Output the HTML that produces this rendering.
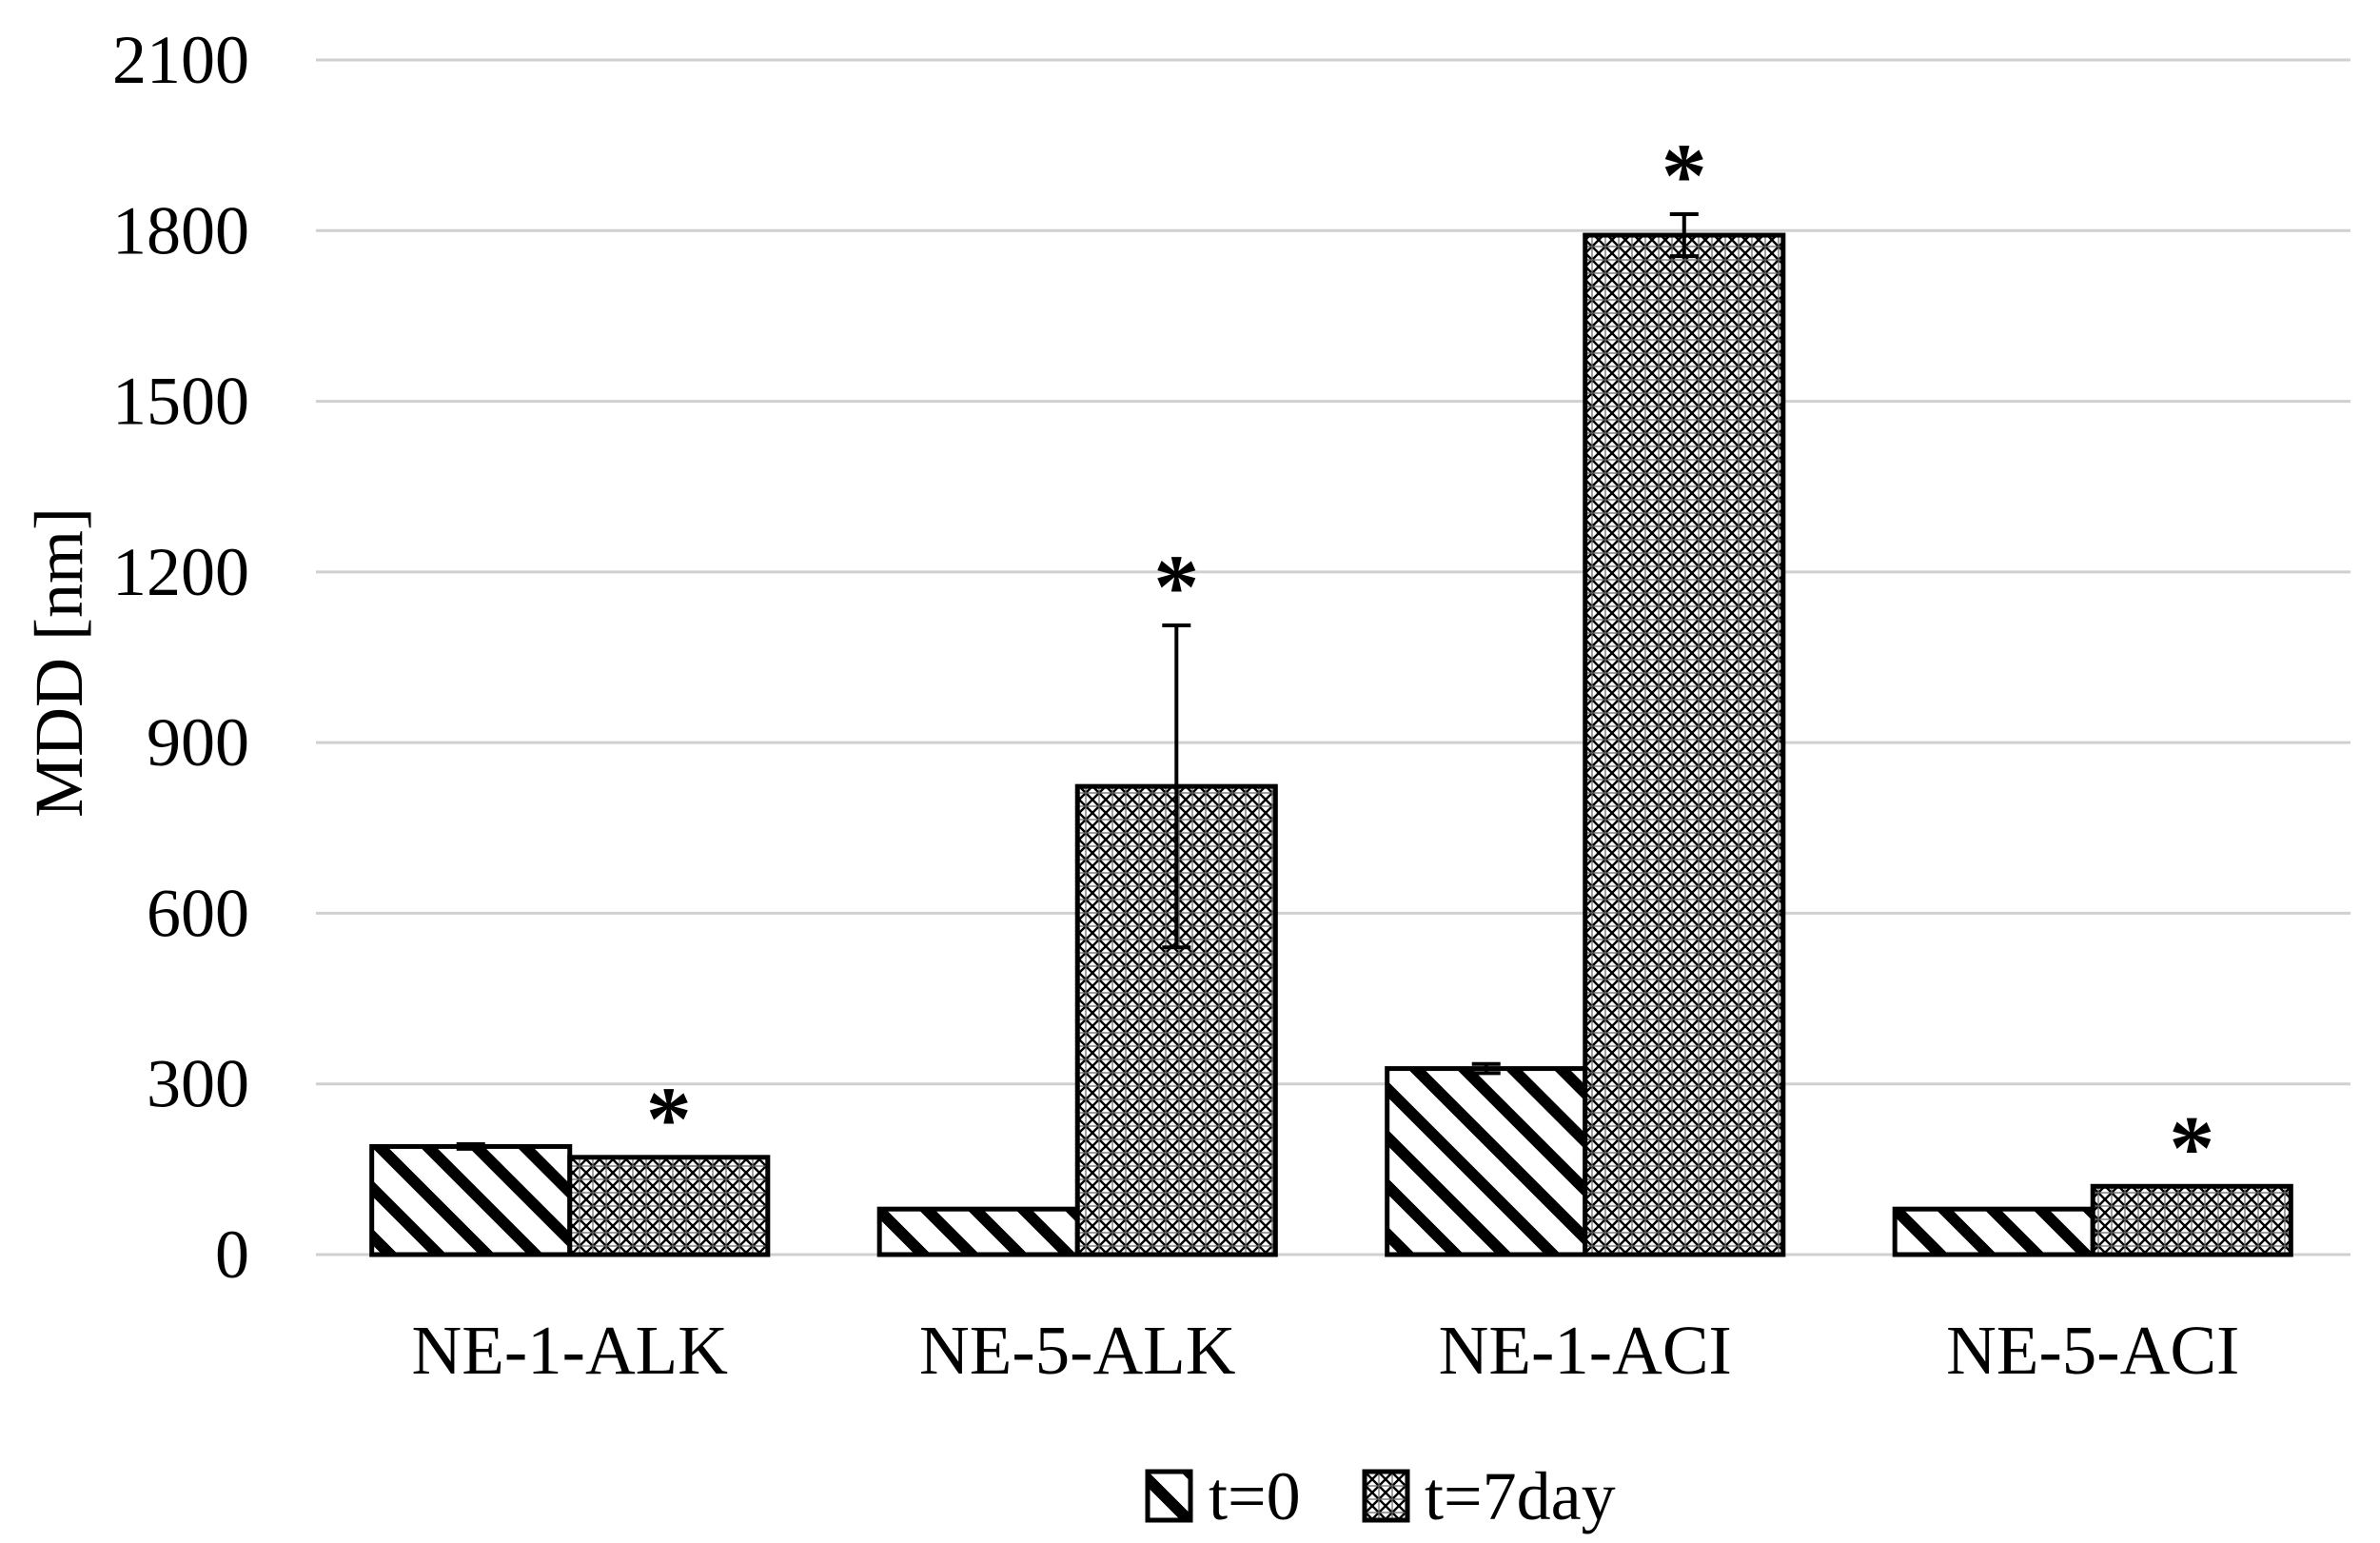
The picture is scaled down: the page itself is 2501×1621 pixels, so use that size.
<!DOCTYPE html>
<html><head><meta charset="utf-8"><style>
html,body{margin:0;padding:0;background:#fff}
svg{display:block}
text{font-family:"Liberation Serif",serif;fill:#000}
</style></head><body>
<svg id="chart" width="2501" height="1621" viewBox="0 0 2501 1621" xmlns="http://www.w3.org/2000/svg">
<defs>
<pattern id="stripes" patternUnits="userSpaceOnUse" width="36" height="36" patternTransform="rotate(-45)">
<rect width="36" height="36" fill="#fff"/><rect x="0" y="0" width="12" height="36" fill="#000"/>
</pattern>
<pattern id="hatch" patternUnits="userSpaceOnUse" width="14" height="14">
<rect width="14" height="14" fill="#fff"/>
<path d="M0 0L14 14M14 0L0 14" stroke="#000" stroke-width="2.4"/>
<path d="M7 0V14M0 7H14" stroke="#666" stroke-width="1.2"/>
</pattern>
</defs>
<g id="grid"></g><g id="bars"></g><g id="labels"></g>
<text transform="translate(86,696) rotate(-90)" text-anchor="middle" font-size="72">MDD [nm]</text>
<g>
<rect x="1206" y="1546" width="45" height="51" fill="url(#stripes)" stroke="#000" stroke-width="5"/>
<text x="1270" y="1596" font-size="72">t=0</text>
<rect x="1434" y="1546" width="45" height="51" fill="url(#hatch)" stroke="#000" stroke-width="5"/>
<text x="1497" y="1596" font-size="72">t=7day</text>
</g>
</svg>
<script>
const categories=["NE-1-ALK","NE-5-ALK","NE-1-ACI","NE-5-ACI"];
const t0Values=[190,80,327,80];
const t0Errors=[4,0,8,0];
const t7Values=[171,823,1792,120];
const t7Errors=[0,283,37,0];
const t7Significant=[true,true,true,true];
const yTicks=[0,300,600,900,1200,1500,1800,2100];
const NS="http://www.w3.org/2000/svg";
const plotL=332,plotR=2466,y0=1318,y2100=63;
const y=v=>y0-(v/2100)*(y0-y2100);
const gw=(plotR-plotL)/categories.length;
const bw=gw*0.39;
const gx=i=>plotL+gw*(i+0.5);
function mk(tag,attrs,parent){const e=document.createElementNS(NS,tag);for(const k in attrs)e.setAttribute(k,attrs[k]);parent.appendChild(e);return e;}
const grid=document.getElementById('grid'),bars=document.getElementById('bars'),labels=document.getElementById('labels');
yTicks.forEach(t=>{
 const l=mk('line',{x1:plotL,x2:plotR+4,y1:y(t),y2:y(t),stroke:'#d0d0d0','stroke-width':3},grid);
 
 
 const tx=mk('text',{x:262,y:y(t)+24,'text-anchor':'end','font-size':72},labels);
 tx.textContent=t;
 
 
});
function err(cx,v,e,parent,name){
 if(!e)return;
 const g=mk('g',{stroke:'#000','stroke-width':4},parent);
 
 
 mk('line',{x1:cx,x2:cx,y1:y(v+e),y2:y(v-e)},g);
 mk('line',{x1:cx-15,x2:cx+15,y1:y(v+e),y2:y(v+e)},g);
 mk('line',{x1:cx-15,x2:cx+15,y1:y(v-e),y2:y(v-e)},g);
}
categories.forEach((c,i)=>{
 const cx=gx(i);
 const r0=mk('rect',{x:cx-bw,y:y(t0Values[i]),width:bw,height:y0-y(t0Values[i]),fill:'url(#stripes)',stroke:'#000','stroke-width':5},bars);
 
 
 const r1=mk('rect',{x:cx,y:y(t7Values[i]),width:bw,height:y0-y(t7Values[i]),fill:'url(#hatch)',stroke:'#000','stroke-width':5},bars);
 
 
 err(cx-bw/2,t0Values[i],t0Errors[i],bars,'error-bar-t0-'+c.toLowerCase());
 err(cx+bw/2,t7Values[i],t7Errors[i],bars,'error-bar-t7-'+c.toLowerCase());
 if(t7Significant[i]){
  const top=y(t7Values[i]+t7Errors[i]);
  const s=mk('text',{x:cx+bw/2,y:top-8,'text-anchor':'middle','font-size':96,'font-weight':'bold'},labels);
  s.textContent='*';
  
  
 }
 const lt=mk('text',{x:cx,y:1443,'text-anchor':'middle','font-size':73},labels);
 lt.textContent=c;
 
 
});
</script>
</body></html>
